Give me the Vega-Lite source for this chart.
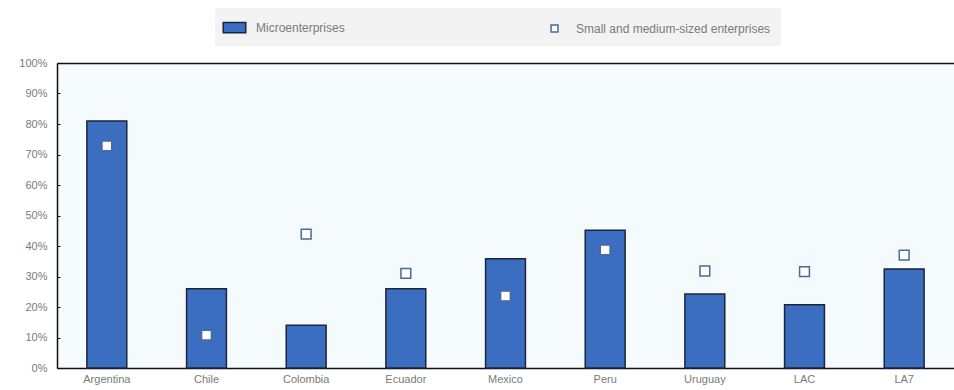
{
  "$schema": "https://vega.github.io/schema/vega-lite/v6.json",
  "autosize": {"type": "none"},
  "width": 897,
  "height": 305,
  "padding": {"left": 57, "top": 63, "right": 0, "bottom": 22},
  "background": "white",
  "config": {
    "view": {"fill": "#f5fafd", "stroke": null},
    "font": "Liberation Sans",
    "axis": {"labelFont": "Liberation Sans", "labelColor": "#7a7a7a", "labelFontSize": 11, "domainColor": "#111", "tickColor": "#111"}
  },
  "data": {
    "values": [
      {"country": "Argentina", "series": "Microenterprises", "value": 81},
      {"country": "Chile", "series": "Microenterprises", "value": 26},
      {"country": "Colombia", "series": "Microenterprises", "value": 14},
      {"country": "Ecuador", "series": "Microenterprises", "value": 26},
      {"country": "Mexico", "series": "Microenterprises", "value": 35.8},
      {"country": "Peru", "series": "Microenterprises", "value": 45.2},
      {"country": "Uruguay", "series": "Microenterprises", "value": 24.3},
      {"country": "LAC", "series": "Microenterprises", "value": 20.7},
      {"country": "LA7", "series": "Microenterprises", "value": 32.5},
      {"country": "Argentina", "series": "Small and medium-sized enterprises", "value": 72.8},
      {"country": "Chile", "series": "Small and medium-sized enterprises", "value": 10.8},
      {"country": "Colombia", "series": "Small and medium-sized enterprises", "value": 43.9},
      {"country": "Ecuador", "series": "Small and medium-sized enterprises", "value": 31},
      {"country": "Mexico", "series": "Small and medium-sized enterprises", "value": 23.6},
      {"country": "Peru", "series": "Small and medium-sized enterprises", "value": 38.7},
      {"country": "Uruguay", "series": "Small and medium-sized enterprises", "value": 31.8},
      {"country": "LAC", "series": "Small and medium-sized enterprises", "value": 31.6},
      {"country": "LA7", "series": "Small and medium-sized enterprises", "value": 37}
    ]
  },
  "encoding": {
    "y": {
      "field": "value", "type": "quantitative",
      "scale": {"domain": [0, 100], "nice": false},
      "axis": {"title": null, "values": [0,10,20,30,40,50,60,70,80,90,100], "labelExpr": "datum.value + '%'", "grid": false, "tickSize": -3, "labelPadding": 13, "domainWidth": 1.5}
    }
  },
  "layer": [
    {
      "transform": [{"filter": "datum.series == 'Microenterprises'"}],
      "mark": {"type": "bar", "stroke": "#1c2638", "strokeWidth": 1.5},
      "encoding": {
        "x": {
          "field": "country", "type": "nominal", "sort": null,
          "scale": {"domain": ["Argentina","Chile","Colombia","Ecuador","Mexico","Peru","Uruguay","LAC","LA7"], "paddingInner": 0.6, "paddingOuter": 0.3},
          "axis": {"title": null, "labelAngle": 0, "ticks": false, "labelPadding": 5, "domainWidth": 1.5}
        },
        "fill": {
          "field": "series", "type": "nominal",
          "scale": {"domain": ["Microenterprises", "Small and medium-sized enterprises"], "range": ["#3b6dc0", "#ffffff"]},
          "legend": {
            "title": null, "orient": "none", "legendX": 158, "legendY": -55, "direction": "horizontal",
            "fillColor": "#f3f3f3", "padding": 10, "columnPadding": 200, "labelLimit": 400,
            "labelFont": "Liberation Sans", "labelFontSize": 12, "labelColor": "#7a7a7a", "labelOffset": 12,
            "symbolSize": 300, "symbolOpacity": 1
          }
        },
        "stroke": {
          "field": "series", "type": "nominal",
          "scale": {"domain": ["Microenterprises", "Small and medium-sized enterprises"], "range": ["#1c2638", "#4a6a9a"]}
        }
      }
    },
    {
      "transform": [{"filter": "datum.series != 'Microenterprises'"}],
      "mark": {"type": "point", "filled": true, "size": 600, "strokeWidth": 1.5, "opacity": 1},
      "encoding": {
        "x": {
          "field": "country", "type": "nominal", "sort": null,
          "axis": {"orient": "top", "title": null, "labels": false, "ticks": false, "domainWidth": 1.5}
        },
        "fill": {"field": "series", "type": "nominal"},
        "stroke": {"field": "series", "type": "nominal"},
        "shape": {
          "field": "series", "type": "nominal",
          "scale": {"domain": ["Microenterprises", "Small and medium-sized enterprises"], "range": ["M-1.3,-0.6H1.3V0.6H-1.3Z", "M-0.4,-0.4H0.4V0.4H-0.4Z"]}
        }
      }
    }
  ],
  "resolve": {"axis": {"x": "independent"}}
}
